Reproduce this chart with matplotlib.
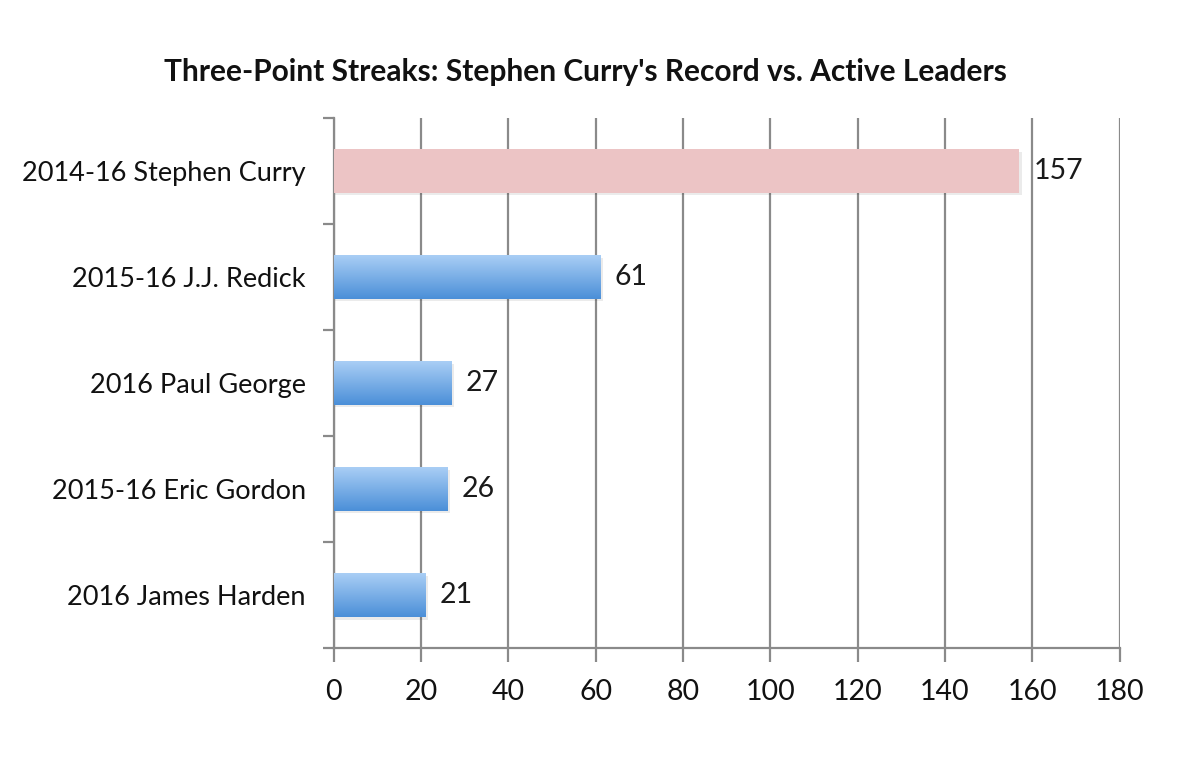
import numpy as np
import matplotlib.pyplot as plt
from matplotlib.colors import LinearSegmentedColormap

players = ['2014-16 Stephen Curry', '2015-16 J.J. Redick', '2016 Paul George',
           '2015-16 Eric Gordon', '2016 James Harden']
streaks = [157, 61, 27, 26, 21]
xticks = [0, 20, 40, 60, 80, 100, 120, 140, 160, 180]

plt.rcParams['font.family'] = ['Lato', 'DejaVu Sans']

fig = plt.figure(figsize=(12, 7.8), dpi=100)
ax = fig.add_axes([0.278, 0.169, 0.655, 0.68])

ypos = np.arange(len(players))
h = 0.41
blue = LinearSegmentedColormap.from_list('b', ['#a9cef5', '#4b8fd8'])
grad = np.linspace(0, 1, 100).reshape(-1, 1)

for y, v, name in zip(ypos, streaks, players):
    # soft shadow
    ax.barh(y + 0.025, v + 0.6, height=h, color='#000000', alpha=0.08, zorder=2)
    if 'Curry' in name:
        ax.barh(y, v, height=h, color='#ecc4c5', zorder=3)
    else:
        ax.imshow(grad, cmap=blue, extent=[0, v, y + h / 2, y - h / 2],
                  aspect='auto', zorder=3, interpolation='bilinear')
    ax.text(v + 3.3, y, str(v), va='center', ha='left', fontsize=20.5, color='#1a1a1a', zorder=4)

ax.set_xlim(0, 180)
ax.set_ylim(len(players) - 0.5, -0.5)
ax.set_xticks(xticks)
ax.set_yticks(ypos)
ax.set_yticklabels(players)
ax.set_yticks(np.arange(-0.5, len(players)), minor=True)

ax.xaxis.grid(True, color='#8a8a8a', linewidth=1.6, zorder=0)
ax.set_axisbelow(True)
for s in ['top', 'right']:
    ax.spines[s].set_visible(False)
for s in ['left', 'bottom']:
    ax.spines[s].set_color('#8a8a8a')
    ax.spines[s].set_linewidth(1.6)

ax.tick_params(axis='x', length=10, width=1.6, color='#8a8a8a', labelsize=20.5, pad=12, labelcolor='#111111')
ax.tick_params(axis='y', which='major', length=0, labelsize=19.5, pad=20, labelcolor='#111111')
ax.tick_params(axis='y', which='minor', length=8, width=1.6, color='#8a8a8a')

fig.suptitle("Three-Point Streaks: Stephen Curry's Record vs. Active Leaders",
             x=0.488, y=0.925, fontsize=21.5, fontweight='bold', color='#111111')

fig.savefig('out.png', dpi=100, facecolor='white')
